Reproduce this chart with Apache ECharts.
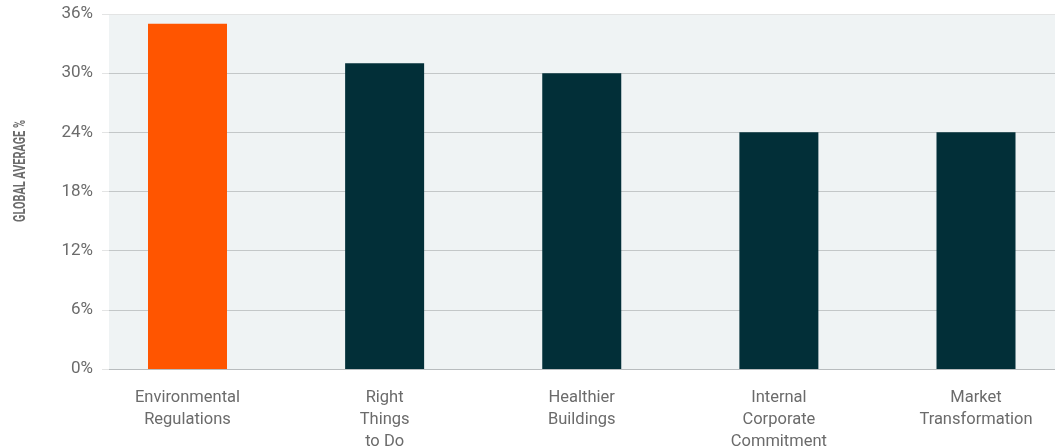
<!DOCTYPE html>
<html><head><meta charset="utf-8">
<script src="https://cdn.jsdelivr.net/npm/echarts@6/dist/echarts.min.js"></script>
<style>html,body{margin:0;padding:0;background:#fff}#c{width:1056px;height:448px}</style>
</head><body><div id="c"></div>
<script>
const categories = ['Environmental\nRegulations', 'Right\nThings\nto Do', 'Healthier\nBuildings', 'Internal\nCorporate\nCommitment', 'Market\nTransformation'];
const values = [35, 31, 30, 24, 24];
const barColors = ['#ff5500', '#022f38', '#022f38', '#022f38', '#022f38'];
const yTicks = [0, 6, 12, 18, 24, 30, 36];
const yTitle = 'GLOBAL AVERAGE %';

const chart = echarts.init(document.getElementById('c'), null, {renderer: 'canvas'});
chart.setOption({
  animation: false,
  grid: [
    {left: 109, right: 1, top: 14, height: 355, show: true, backgroundColor: '#eff3f4', borderWidth: 0, outerBoundsMode: 'none', containLabel: false},
    {left: 187.5, width: 788.5, top: 14, height: 355, outerBoundsMode: 'none', containLabel: false}
  ],
  xAxis: [
    {gridIndex: 0, type: 'category', data: categories, show: false},
    {gridIndex: 1, type: 'category', data: categories, boundaryGap: false,
      axisLine: {show: false}, axisTick: {show: false},
      axisLabel: {color: '#6b6b6b', fontFamily: 'Roboto', fontSize: 16.5, lineHeight: 22, margin: 18, interval: 0}}
  ],
  yAxis: [
    {gridIndex: 0, type: 'value', min: yTicks[0], max: yTicks[yTicks.length - 1], interval: 6,
      axisLine: {show: false},
      axisTick: {show: true, length: 7, lineStyle: {color: ['#c3c7c8']}},
      splitLine: {show: true, lineStyle: {color: ['#b8bcbe', '#c3c7c8', '#c3c7c8', '#c3c7c8', '#c3c7c8', '#c3c7c8', '#e3e4e4'], width: 1}},
      axisLabel: {color: '#6b6b6b', fontFamily: 'Roboto', fontSize: 17, margin: 16, formatter: '{value}%'}},
    {gridIndex: 1, type: 'value', min: yTicks[0], max: yTicks[yTicks.length - 1], interval: 6, show: false}
  ],
  graphic: [{
    type: 'text', x: 20.5, y: 171, rotation: Math.PI / 2, scaleX: 0.64,
    style: {text: yTitle, fill: '#6b6b6b', font: 'bold 17px Roboto', align: 'center', verticalAlign: 'middle'}
  }],
  series: [{
    type: 'bar', xAxisIndex: 1, yAxisIndex: 1, barWidth: 79, clip: false,
    data: values.map((v, i) => ({value: v, itemStyle: {color: barColors[i]}}))
  }]
});
</script></body></html>
